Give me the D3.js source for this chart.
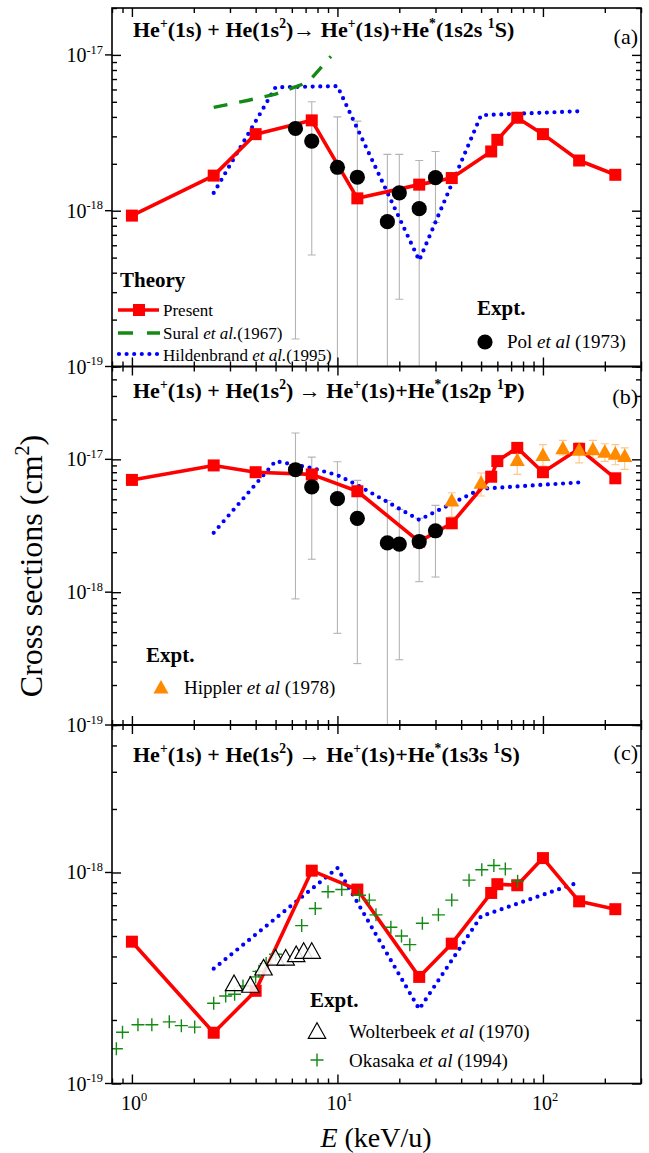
<!DOCTYPE html>
<html><head><meta charset="utf-8">
<script src="https://cdn.jsdelivr.net/npm/d3@7"></script>
<style>
body{margin:0;background:#fff}
svg{display:block}
text{font-family:"Liberation Serif","Times New Roman",serif;fill:#000}
</style>
</head><body>
<svg id="chart" width="649" height="1153"></svg>
<script>
// ---------------- DATA ----------------
const energyPresent = [1, 2.5, 4, 7.5, 12.5, 25, 36, 56, 60, 75, 100, 150, 225];
const presentA = [0.93e-18, 1.68e-18, 3.1e-18, 3.8e-18, 1.2e-18, 1.47e-18, 1.62e-18, 2.4e-18, 2.85e-18, 3.95e-18, 3.1e-18, 2.1e-18, 1.7e-18];
const presentB = [7.0e-18, 9.0e-18, 8.0e-18, 7.7e-18, 5.75e-18, 2.4e-18, 3.3e-18, 7.4e-18, 9.7e-18, 1.22e-17, 8.0e-18, 1.2e-17, 7.2e-18];
const presentC = [4.7e-19, 1.74e-19, 2.75e-19, 1.02e-18, 8.3e-19, 3.2e-19, 4.6e-19, 8.0e-19, 8.8e-19, 8.7e-19, 1.17e-18, 7.3e-19, 6.7e-19];

const energySural = [2.5, 3.65, 5, 6.7, 7.5, 9.3];
const suralA = [4.6e-18, 5.1e-18, 5.6e-18, 6.45e-18, 7.1e-18, 9.8e-18];

const energyHildA = [2.5, 5, 10, 25, 50, 150];
const hildA = [1.3e-18, 6.2e-18, 6.3e-18, 4.8e-19, 4.1e-18, 4.35e-18];
const energyHildB = [2.5, 5, 7.5, 10, 12.5, 25, 50, 150];
const hildB = [2.8e-18, 9.7e-18, 8.6e-18, 7.6e-18, 6.4e-18, 3.5e-18, 6.0e-18, 6.7e-18];
const energyHildC = [2.5, 10, 25, 50, 150];
const hildC = [3.5e-19, 1.05e-18, 2.25e-19, 6.2e-19, 9.0e-19];

const energyPol = [6.25, 7.5, 10, 12.5, 17.5, 20, 25, 30];
const polA = [3.37e-18, 2.8e-18, 1.9e-18, 1.64e-18, 0.85e-18, 1.3e-18, 1.03e-18, 1.63e-18];
const polAHigh = [6.3e-18, 5.0e-18, 4.0e-18, 3.76e-18, 2.3e-18, 2.3e-18, 2.1e-18, 2.4e-18];
const polALow = [1.5e-19, 5.2e-19, 0, 0, 0, 2.7e-19, 0, 8.4e-19]; // 0 = bar runs off the axis
const polB = [8.35e-18, 6.2e-18, 5.06e-18, 3.6e-18, 2.35e-18, 2.3e-18, 2.4e-18, 2.9e-18];
const polBHigh = [1.58e-17, 1.04e-17, 9.6e-18, 6.95e-18, 4.9e-18, 4.2e-18, 3.6e-18, 4.5e-18];
const polBLow = [8.9e-19, 1.77e-18, 4.9e-19, 2.9e-19, 0, 3.1e-19, 1.2e-18, 1.3e-18];

const energyHippler = [36, 50, 75, 100, 125, 150, 175, 200, 225, 250];
const hipplerB = [4.85e-18, 6.6e-18, 9.8e-18, 1.07e-17, 1.2e-17, 1.17e-17, 1.18e-17, 1.13e-17, 1.09e-17, 1.05e-17];
const hipplerHigh = [5.6e-18, 7.9e-18, 1.12e-17, 1.29e-17, 1.39e-17, 1.33e-17, 1.39e-17, 1.31e-17, 1.29e-17, 1.22e-17];
const hipplerLow = [3.7e-18, 5.3e-18, 7.7e-18, 8.9e-18, 1.08e-17, 9.4e-18, 1.02e-17, 9.65e-18, 9.1e-18, 8.4e-18];

const energyWolter = [3.14, 3.77, 4.37, 5.0, 5.6, 6.3, 6.85, 7.5];
const wolterC = [2.95e-19, 2.9e-19, 3.5e-19, 3.9e-19, 3.9e-19, 4.05e-19, 4.2e-19, 4.2e-19];

const energyOkasaka = [0.84, 0.90, 1.07, 1.25, 1.52, 1.74, 2.02, 2.5, 2.86, 3.16, 3.47, 4.0, 4.15, 4.5, 5.0, 6.7, 7.8, 9.0, 10.5, 12.8, 14.3, 15.4, 18.2, 20.5, 22.5, 25.9, 31, 36, 43.7, 50.4, 57.7, 65.6, 75.3];
const okasakaC = [1.46e-19, 1.75e-19, 1.9e-19, 1.9e-19, 1.96e-19, 1.88e-19, 1.85e-19, 2.4e-19, 2.6e-19, 2.65e-19, 2.9e-19, 3.2e-19, 3.4e-19, 3.7e-19, 4.1e-19, 5.6e-19, 6.75e-19, 8.1e-19, 8.3e-19, 7.8e-19, 7.4e-19, 6.3e-19, 5.5e-19, 5.0e-19, 4.55e-19, 5.75e-19, 6.3e-19, 7.4e-19, 9.2e-19, 1.03e-18, 1.08e-18, 1.04e-18, 9.1e-19];

const xTickLabels = ["0", "1", "2"];           // exponents of 10 on the E axis
const yTickLabelsA = ["-19", "-18", "-17"];
const yTickLabelsB = ["-19", "-18", "-17"];
const yTickLabelsC = ["-19", "-18"];

// ---------------- LAYOUT ----------------
const L = 112, R = 641, PH = 358.5;
const svg = d3.select("#chart");
svg.append("rect").attr("width", 649).attr("height", 1153).attr("fill", "#fff");

const x = d3.scaleLog().domain([0.8, 300]).range([L, R]);

const RED = "#ff0000", BLUE = "#0000ff", GREEN = "#138a13", ORANGE = "#ff8a00", GREY = "#b4b4b4";

function rich(g, px, py, parts, size, anchor, weight) {
  const t = g.append("text").attr("x", px).attr("y", py).attr("font-size", size)
    .attr("text-anchor", anchor || "start").attr("font-weight", weight || "normal");
  let cur = 0;
  parts.forEach(p => {
    const s = typeof p === "string" ? p : p[0];
    const st = typeof p === "string" ? "" : p[1];
    const ts = t.append("tspan").text(s);
    let want = 0;
    if (st.includes("sup")) { want = -size * 0.42; ts.attr("font-size", size * 0.62); }
    if (want !== cur) { ts.attr("dy", want - cur); cur = want; }
    if (st.includes("it")) ts.attr("font-style", "italic");
  });
  return t;
}

const panels = [
  { top: 8, dom: [1e-19, 2e-17], labels: yTickLabelsA, tag: "(a)", titleY: 37, tagY: 44,
    title: ["He", ["+", "sup"], "(1s) + He(1s", ["2", "sup"], ")\u2192 He", ["+", "sup"], "(1s)+He", ["*", "sup"], "(1s2s ", ["1", "sup"], "S)"] },
  { top: 8 + PH, dom: [1e-19, 5e-17], labels: yTickLabelsB, tag: "(b)", titleY: 398, tagY: 404,
    title: ["He", ["+", "sup"], "(1s) + He(1s", ["2", "sup"], ") \u2192 He", ["+", "sup"], "(1s)+He", ["*", "sup"], "(1s2p ", ["1", "sup"], "P)"] },
  { top: 8 + 2 * PH, dom: [1e-19, 5e-18], labels: yTickLabelsC, tag: "(c)", titleY: 762, tagY: 760,
    title: ["He", ["+", "sup"], "(1s) + He(1s", ["2", "sup"], ") \u2192 He", ["+", "sup"], "(1s)+He", ["*", "sup"], "(1s3s ", ["1", "sup"], "S)"] }
];

panels.forEach((p, i) => {
  p.bottom = p.top + PH;
  p.y = d3.scaleLog().domain(p.dom).range([p.bottom, p.top]);
  p.g = svg.append("g");
  const cid = "clip" + i;
  svg.append("clipPath").attr("id", cid).append("rect")
    .attr("x", L).attr("y", p.top).attr("width", R - L).attr("height", PH);
  p.data = p.g.append("g").attr("clip-path", `url(#${cid})`);
});

function line(p, xs, ys) {
  return d3.line().x((d, i) => x(xs[i])).y(d => p.y(d))(ys);
}

// ---------------- AXES ----------------
const isDecade = v => Math.abs(Math.log10(v) - Math.round(Math.log10(v))) < 1e-6;
const xMinor = x.ticks().filter(v => !isDecade(v));
const xMajor = x.ticks().filter(isDecade);

panels.forEach((p, i) => {
  const g = p.g.append("g");
  const yt = p.y.ticks();
  const yMinor = yt.filter(v => !isDecade(v));
  const yMajor = yt.filter(isDecade);
  const mk = (axis, vals, size, tr) => g.append("g").attr("transform", tr)
      .call(axis.tickValues(vals).tickSize(size).tickSizeOuter(0).tickFormat(""))
      .call(s => s.select(".domain").remove())
      .call(s => s.selectAll("line").attr("stroke", "#000").attr("stroke-width", 1.4));
  mk(d3.axisBottom(x), xMinor, -5, `translate(0,${p.bottom})`);
  mk(d3.axisBottom(x), xMajor, -9, `translate(0,${p.bottom})`);
  mk(d3.axisTop(x), xMinor, -5, `translate(0,${p.top})`);
  mk(d3.axisTop(x), xMajor, -9, `translate(0,${p.top})`);
  mk(d3.axisLeft(p.y), yMinor, -5, `translate(${L},0)`);
  mk(d3.axisLeft(p.y), yMajor, -9, `translate(${L},0)`);
  mk(d3.axisRight(p.y), yMinor, -5, `translate(${R},0)`);
  mk(d3.axisRight(p.y), yMajor, -9, `translate(${R},0)`);
  yMajor.forEach(v => g.append("line").attr("x1", L - 7).attr("x2", L).attr("y1", p.y(v)).attr("y2", p.y(v)).attr("stroke", "#000").attr("stroke-width", 1.4));
  g.append("rect").attr("x", L).attr("y", p.top).attr("width", R - L).attr("height", PH)
    .attr("fill", "none").attr("stroke", "#000").attr("stroke-width", 1.6);
  yMajor.forEach((v, k) => {
    rich(svg, L - 9, p.y(v) + 7, ["10", [p.labels[k], "sup"]], 20, "end");
  });
  rich(svg, 133, p.titleY, p.title, 22, "start", "bold");
  svg.append("text").attr("x", 638).attr("y", p.tagY).attr("text-anchor", "end").attr("font-size", 22).text(p.tag);
});

const pc = panels[2];
xMajor.forEach((v, k) => {
  rich(svg, x(v) - 11, pc.bottom + 26, ["10", [xTickLabels[k], "sup"]], 20, "start");
});
rich(svg, 376, 1147, [["E", "it"], " (keV/u)"], 28, "middle");
const yl = svg.append("text").attr("transform", "translate(42,566) rotate(-90)").attr("text-anchor", "middle").attr("font-size", 32);
yl.append("tspan").text("Cross sections (cm");
yl.append("tspan").attr("font-size", 20).attr("dy", -13).text("2");
yl.append("tspan").attr("dy", 13).text(")");

// ---------------- MARKS ----------------
function errorBars(p, xs, lows, highs, color, capW) {
  xs.forEach((e, i) => {
    const cx = x(e);
    const y2 = p.y(highs[i]);
    const y1 = lows[i] > 0 ? p.y(lows[i]) : p.bottom + 4;
    p.data.append("line").attr("x1", cx).attr("x2", cx).attr("y1", y1).attr("y2", y2).attr("stroke", color).attr("stroke-width", 1.1);
    p.data.append("line").attr("x1", cx - capW / 2).attr("x2", cx + capW / 2).attr("y1", y2).attr("y2", y2).attr("stroke", color).attr("stroke-width", 1.1);
    if (lows[i] > 0) p.data.append("line").attr("x1", cx - capW / 2).attr("x2", cx + capW / 2).attr("y1", y1).attr("y2", y1).attr("stroke", color).attr("stroke-width", 1.1);
  });
}
function dotted(p, xs, ys) {
  p.data.append("path").attr("d", line(p, xs, ys)).attr("fill", "none").attr("stroke", BLUE)
    .attr("stroke-width", 4.2).attr("stroke-linecap", "round").attr("stroke-dasharray", "0,7.6");
}
function present(p, ys) {
  p.data.append("path").attr("d", line(p, energyPresent, ys)).attr("fill", "none").attr("stroke", RED).attr("stroke-width", 3.6).attr("stroke-linejoin", "round");
  p.data.selectAll(null).data(ys).enter().append("rect")
    .attr("x", (d, i) => x(energyPresent[i]) - 6).attr("y", d => p.y(d) - 6)
    .attr("width", 12).attr("height", 12).attr("fill", RED);
}
function circles(p, xs, ys) {
  p.data.selectAll(null).data(ys).enter().append("circle")
    .attr("cx", (d, i) => x(xs[i])).attr("cy", d => p.y(d)).attr("r", 7.6).attr("fill", "#000");
}
const triPath = (cx, cy, s) => `M${cx},${cy - s * 0.62}L${cx + s * 0.58},${cy + s * 0.42}L${cx - s * 0.58},${cy + s * 0.42}Z`;
function plus(g, cx, cy, s) {
  g.append("path").attr("d", `M${cx - s},${cy}H${cx + s}M${cx},${cy - s}V${cy + s}`).attr("stroke", GREEN).attr("stroke-width", 1.4).attr("fill", "none");
}

// Panel (a)
const pa = panels[0];
errorBars(pa, energyPol, polALow, polAHigh, GREY, 8);
dotted(pa, energyHildA, hildA);
pa.data.append("path").attr("d", line(pa, energySural, suralA)).attr("fill", "none").attr("stroke", GREEN)
  .attr("stroke-width", 3.4).attr("stroke-dasharray", "14,12");
present(pa, presentA);
circles(pa, energyPol, polA);

// Panel (b)
const pb = panels[1];
errorBars(pb, energyPol, polBLow, polBHigh, GREY, 8);
errorBars(pb, energyHippler, hipplerLow, hipplerHigh, "#ffc68a", 8);
dotted(pb, energyHildB, hildB);
present(pb, presentB);
circles(pb, energyPol, polB);
pb.data.selectAll(null).data(hipplerB).enter().append("path")
  .attr("d", (d, i) => triPath(x(energyHippler[i]), pb.y(d), 13)).attr("fill", ORANGE);

// Panel (c)
dotted(pc, energyHildC, hildC);
present(pc, presentC);
okasakaC.forEach((d, i) => plus(pc.data, x(energyOkasaka[i]), pc.y(d), 6.5));
pc.data.selectAll(null).data(wolterC).enter().append("path")
  .attr("d", (d, i) => triPath(x(energyWolter[i]), pc.y(d), 15)).attr("fill", "#fff").attr("fill-opacity", 0.85)
  .attr("stroke", "#000").attr("stroke-width", 1.2);

// ---------------- LEGENDS ----------------
rich(svg, 120, 287, ["Theory"], 21, "start", "bold");
svg.append("line").attr("x1", 118).attr("x2", 159).attr("y1", 310).attr("y2", 310).attr("stroke", RED).attr("stroke-width", 3.6);
svg.append("rect").attr("x", 133).attr("y", 304).attr("width", 12).attr("height", 12).attr("fill", RED);
rich(svg, 163, 316, ["Present"], 17);
svg.append("line").attr("x1", 118).attr("x2", 160).attr("y1", 333).attr("y2", 333).attr("stroke", GREEN).attr("stroke-width", 3.4).attr("stroke-dasharray", "15,14");
rich(svg, 163, 339, ["Sural ", ["et al.", "it"], "(1967)"], 17);
svg.append("line").attr("x1", 119).attr("x2", 157).attr("y1", 354).attr("y2", 354).attr("stroke", BLUE).attr("stroke-width", 4.2).attr("stroke-linecap", "round").attr("stroke-dasharray", "0,7.6");
rich(svg, 163, 361, ["Hildenbrand ", ["et al.", "it"], "(1995)"], 17);

rich(svg, 477, 315, ["Expt."], 21, "start", "bold");
svg.append("circle").attr("cx", 485).attr("cy", 342).attr("r", 7.6).attr("fill", "#000");
rich(svg, 507, 348, ["Pol ", ["et al", "it"], " (1973)"], 19);

rich(svg, 146, 662, ["Expt."], 21, "start", "bold");
svg.append("path").attr("d", triPath(161, 688, 13)).attr("fill", ORANGE);
rich(svg, 184, 694, ["Hippler ", ["et al", "it"], " (1978)"], 19);

rich(svg, 310, 1007, ["Expt."], 21, "start", "bold");
svg.append("path").attr("d", triPath(317, 1032, 15)).attr("fill", "#fff").attr("stroke", "#000").attr("stroke-width", 1.2);
rich(svg, 349, 1038, ["Wolterbeek ", ["et al", "it"], " (1970)"], 19);
plus(svg, 317, 1060, 6.5);
rich(svg, 349, 1067, ["Okasaka ", ["et al", "it"], " (1994)"], 19);
</script>
</body></html>
